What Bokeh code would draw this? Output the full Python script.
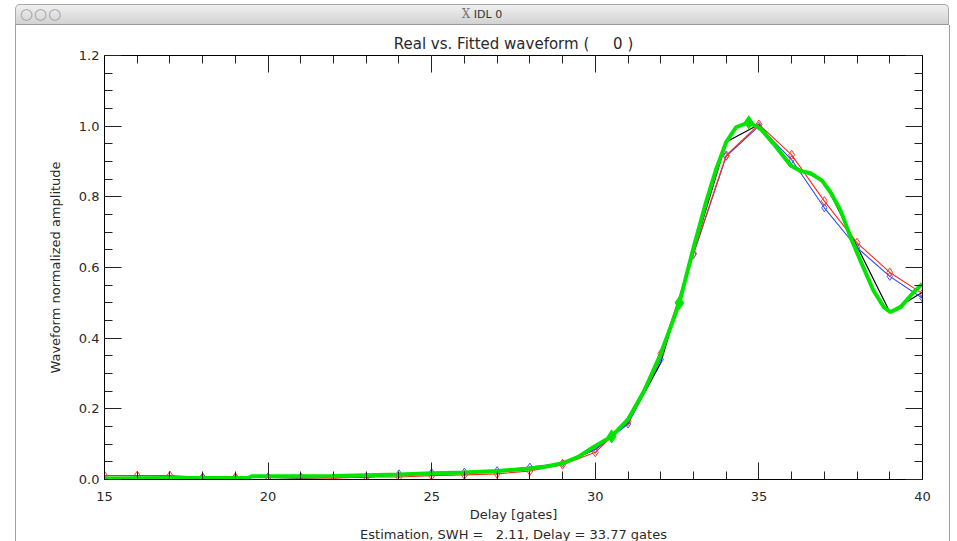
from bokeh.plotting import figure
from bokeh.models import (LinearAxis, SingleIntervalTicker, PrintfTickFormatter,
                          Title, Div, Range1d, CustomJSTickFormatter)
from bokeh.layouts import column
from bokeh.embed import file_html
from bokeh.resources import INLINE

# ---------------- data ----------------
gates = [15, 16, 17, 18, 19, 20, 21, 22, 23, 24, 25, 26, 27,
         28, 29, 30, 31, 32, 33, 34, 35, 36, 37, 38, 39, 40]

real_black = [0.000, 0.000, 0.000, 0.006, 0.006, 0.006, 0.004, 0.006, 0.007,
              0.014, 0.018, 0.020, 0.024, 0.033, 0.045, 0.085, 0.160, 0.330,
              0.645, 0.955, 1.005, 0.890, 0.842, 0.660, 0.474, 0.530]

wave_blue = [0.000, 0.000, 0.000, 0.006, 0.006, 0.006, 0.006, 0.006, 0.007,
             0.016, 0.019, 0.021, 0.025, 0.035, 0.046, 0.085, 0.157, 0.340,
             0.637, 0.915, 1.000, 0.905, 0.769, 0.656, 0.575, 0.513]

wave_red = [0.011, 0.011, 0.011, 0.006, 0.006, 0.006, 0.006, 0.004, 0.007,
            0.007, 0.011, 0.013, 0.016, 0.024, 0.042, 0.077, 0.165, 0.356,
            0.640, 0.917, 1.005, 0.919, 0.788, 0.670, 0.586, 0.526]

fit_x = [15.0, 17.0, 19.4, 19.5, 21.0, 22.0, 23.0, 24.0, 25.0, 26.0, 27.0,
         28.0, 28.5, 29.0, 29.5, 30.0, 30.5, 31.0, 31.5, 32.0, 32.3, 32.57,
         33.0, 33.4, 33.7, 34.0, 34.3, 34.69, 35.05, 35.45, 35.97, 36.27,
         36.58, 36.93, 37.19, 37.5, 37.8, 38.1, 38.5, 38.82, 39.02, 39.33,
         39.73, 40.0]
fit_y = [0.003, 0.004, 0.005, 0.009, 0.009, 0.010, 0.012, 0.014, 0.018,
         0.020, 0.024, 0.031, 0.037, 0.046, 0.065, 0.095, 0.122, 0.170,
         0.252, 0.356, 0.431, 0.500, 0.655, 0.790, 0.880, 0.955, 0.997,
         1.011, 0.993, 0.950, 0.889, 0.873, 0.867, 0.846, 0.813, 0.761,
         0.686, 0.620, 0.535, 0.488, 0.474, 0.488, 0.530, 0.554]

fit_marker_x = [30.5, 32.57, 34.69]
fit_marker_y = [0.122, 0.500, 1.011]

NB = "\u00a0"
title_text = "Real vs. Fitted waveform (" + NB * 5 + "0 )"
x_label = "Delay [gates]"
y_label = "Waveform normalized amplitude"
estimation_text = "Estimation, SWH =" + NB * 3 + "2.11, Delay = 33.77 gates"
window_title = "IDL 0"

FONT = "DejaVu Sans"
TXT = "#2a2a2a"

# ---------------- window title bar ----------------
bar = Div(
    text=(
        '<div style="position:relative;box-sizing:border-box;width:934px;height:21px;'
        'margin-left:15px;margin-top:4px;border:1px solid #a9a9a9;border-bottom:1px solid #9a9a9a;'
        'border-radius:5px 5px 0 0;background:linear-gradient(#f0f0f0,#d2d2d2);'
        'font-family:\'DejaVu Sans\';">'
        '<span style="position:absolute;left:4px;top:0px;font-size:15px;color:#a0a0a0;'
        'letter-spacing:1px;line-height:19px;">&#9675;&#9675;&#9675;</span>'
        '<span style="position:absolute;left:0;right:0;top:0;text-align:center;font-size:11px;'
        'color:#333;line-height:19px;"><span style="font-family:\'DejaVu Serif\';'
        'color:#777;font-size:12px;">X</span> ' + window_title + '</span></div>'
    ),
    width=957, height=25, margin=(0, 0, 0, 0),
)

# ---------------- main plot ----------------
p = figure(width=933, height=516, x_range=Range1d(15, 40), y_range=Range1d(0, 1.2001),
           output_backend="svg", toolbar_location=None, title=title_text,
           min_border_left=88, min_border_right=27, min_border_top=30,
           min_border_bottom=62, margin=(0, 8, 0, 16),
           styles={"box-shadow": "-1px 0 0 #a0a0a0, 1px 0 0 #a0a0a0"})
p.grid.visible = False
p.outline_line_color = "black"
p.background_fill_color = "white"
p.border_fill_color = "white"

p.title.align = "center"
p.title.text_font = FONT
p.title.text_font_size = "15px"
p.title.text_font_style = "normal"
p.title.text_color = TXT
p.title.standoff = 6


def style_axis(ax, show_labels):
    ax.axis_line_color = "black"
    ax.axis_line_width = 1
    ax.major_tick_in = 17
    ax.major_tick_out = 0
    ax.minor_tick_in = 8
    ax.minor_tick_out = 0
    ax.major_tick_line_color = "#222"
    ax.minor_tick_line_color = "#222"
    ax.major_label_text_font = FONT
    ax.major_label_text_color = TXT
    ax.axis_label_text_font = FONT
    ax.axis_label_text_font_style = "normal"
    ax.axis_label_text_color = TXT
    if show_labels:
        ax.major_label_text_font_size = "13px"
    else:
        ax.formatter = CustomJSTickFormatter(code="return '';")
        ax.major_label_text_font_size = "1px"
        ax.major_label_standoff = 0


xa = p.xaxis[0]
xa.ticker = SingleIntervalTicker(interval=5, num_minor_ticks=5)
style_axis(xa, True)
xa.axis_label = x_label
xa.axis_label_text_font_size = "13px"
xa.major_label_standoff = 12
xa.axis_label_standoff = 3

ya = p.yaxis[0]
ya.ticker = SingleIntervalTicker(interval=0.2, num_minor_ticks=4)
ya.formatter = PrintfTickFormatter(format="%.1f")
style_axis(ya, True)
ya.axis_label = y_label
ya.axis_label_text_font_size = "13px"
ya.major_label_standoff = 5
ya.axis_label_standoff = 13

top = LinearAxis(ticker=SingleIntervalTicker(interval=5, num_minor_ticks=5))
style_axis(top, False)
p.add_layout(top, "above")

right = LinearAxis(ticker=SingleIntervalTicker(interval=0.2, num_minor_ticks=4))
style_axis(right, False)
p.add_layout(right, "right")

# series
p.line(gates, real_black, line_color="black", line_width=1.2)
p.line(gates, wave_blue, line_color="#2a48ff", line_width=1.1)
p.scatter(gates, wave_blue, marker="diamond", size=8, fill_color=None,
          line_color="#3a58ff", line_width=1)
p.line(gates, wave_red, line_color="#ff2a1a", line_width=1.1)
p.scatter(gates, wave_red, marker="diamond", size=9, fill_color=None,
          line_color="#ff3a2a", line_width=1)
p.line(fit_x, fit_y, line_color="#00e400", line_width=4)
p.scatter(fit_marker_x, fit_marker_y, marker="diamond", size=13,
          fill_color="#00e400", line_color="#00e400")

est = Title(text=estimation_text, align="center", text_font=FONT,
            text_font_size="13px", text_font_style="normal", text_color=TXT,
            standoff=0)
p.add_layout(est, "below")

layout = column(bar, p, spacing=0)
open("out.html", "w").write(file_html(layout, INLINE))
